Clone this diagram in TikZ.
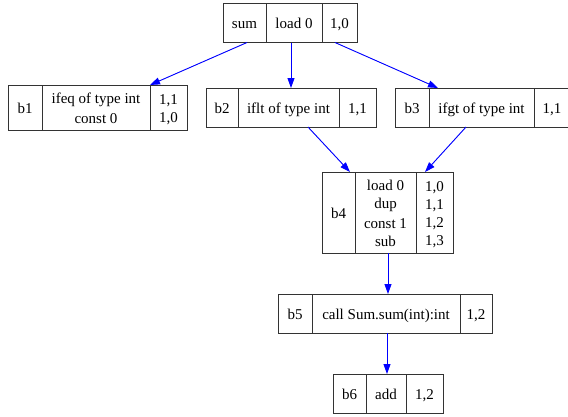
\documentclass[tikz,border=0pt]{standalone}
\usepackage{fontspec}
\setmainfont{Liberation Serif}
\usetikzlibrary{arrows.meta}
\newcommand\mystrut{\rule[-3.15pt]{0pt}{18.3pt}}
\begin{document}
\begin{tikzpicture}[x=1pt,y=-1pt,
  rec/.style={draw=black!80,line width=0.9pt,inner sep=0pt,outer sep=0pt,anchor=north west},
  sep/.style={draw=black!80,line width=0.9pt},
  txt/.style={font=\fontsize{15}{18.3}\selectfont,align=center,inner sep=0pt},
  arr/.style={draw=blue,line width=0.9pt,-{Triangle[length=10pt,width=7pt]},fill=blue}]
\useasboundingbox (0,0) rectangle (568,416);
% records
\node[rec,minimum width=134pt,minimum height=39.5pt] (sum) at (223,3) {};
\node[rec,minimum width=179pt,minimum height=45pt] (b1) at (8,85) {};
\node[rec,minimum width=170pt,minimum height=39pt] (b2) at (206,88) {};
\node[rec,minimum width=175pt,minimum height=39pt] (b3) at (395,88) {};
\node[rec,minimum width=131pt,minimum height=81pt] (b4) at (322,172) {};
\node[rec,minimum width=214pt,minimum height=39pt] (b5) at (278,294) {};
\node[rec,minimum width=110pt,minimum height=39pt] (b6) at (333,374) {};
% dividers
\foreach \n/\d in {sum/43,sum/99,b1/34,b1/142,b2/32,b2/133,b3/34,b3/139,b4/33,b4/94,b5/34,b5/182,b6/33,b6/73}
  \draw[sep] ([xshift=\d pt]\n.north west) -- ([xshift=\d pt]\n.south west);
% texts
\node[txt] (sumA) at (244.5,22.5) {\mystrut sum};
\node[txt] (sumB) at (294,22.5) {\mystrut load 0};
\node[txt] (sumC) at (339.5,22.5) {\mystrut 1,0};
\node[txt] (b1A) at (25,107.5) {\mystrut b1};
\node[txt] (b1B) at (96,107.5) {\mystrut ifeq of type int\\\mystrut const 0};
\node[txt] (b1C) at (168.5,107.5) {\mystrut 1,1\\\mystrut 1,0};
\node[txt] (b2A) at (222,107.5) {\mystrut b2};
\node[txt] (b2B) at (288.5,107.5) {\mystrut iflt of type int};
\node[txt] (b2C) at (357.5,107.5) {\mystrut 1,1};
\node[txt] (b3A) at (412,107.5) {\mystrut b3};
\node[txt] (b3B) at (481.5,107.5) {\mystrut ifgt of type int};
\node[txt] (b3C) at (552,107.5) {\mystrut 1,1};
\node[txt] (b4A) at (338.5,212.5) {\mystrut b4};
\node[txt] (b4B) at (385.5,212.5) {\mystrut load 0\\\mystrut dup\\\mystrut const 1\\\mystrut sub};
\node[txt] (b4C) at (434.5,212.5) {\mystrut 1,0\\\mystrut 1,1\\\mystrut 1,2\\\mystrut 1,3};
\node[txt] (b5A) at (295,313.5) {\mystrut b5};
\node[txt] (b5B) at (386,313.5) {\mystrut call Sum.sum(int):int};
\node[txt] (b5C) at (476,313.5) {\mystrut 1,2};
\node[txt] (b6A) at (349.5,393.5) {\mystrut b6};
\node[txt] (b6B) at (386,393.5) {\mystrut add};
\node[txt] (b6C) at (424.5,393.5) {\mystrut 1,2};
% arrows
\draw[arr] ([xshift=-43pt]sum.south) -- ([xshift=52.5pt]b1.north);
\draw[arr] ([xshift=1pt]sum.south) -- ([xshift=0pt]b2.north);
\draw[arr] ([xshift=45pt]sum.south) -- ([xshift=-44.5pt]b3.north);
\draw[arr] ([xshift=17pt]b2.south) -- ([xshift=-37.5pt]b4.north);
\draw[arr] ([xshift=-16.5pt]b3.south) -- ([xshift=37.5pt]b4.north);
\draw[arr] ([xshift=0.5pt]b4.south) -- ([xshift=3pt]b5.north);
\draw[arr] ([xshift=2pt]b5.south) -- ([xshift=-1pt]b6.north);
\end{tikzpicture}
\end{document}
